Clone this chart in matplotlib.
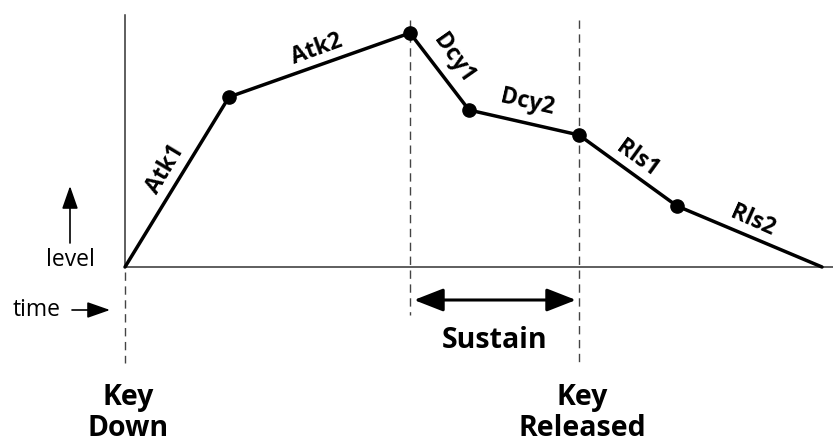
import matplotlib
matplotlib.use("Agg")
import matplotlib.pyplot as plt

plt.rcParams["font.family"] = ["Open Sans", "DejaVu Sans"]

# envelope break points (time, level)
times = [0, 104, 285, 344, 454, 552, 697]
levels = [0, 170, 234, 157, 132, 61, 0]
seg_names = ["Atk1", "Atk2", "Dcy1", "Dcy2", "Rls1", "Rls2"]
# label positions and angles along each segment
label_x = [41, 192, 329, 402, 512, 628]
label_y = [98, 218, 208, 165, 108, 46]
label_rot = [59, 20, -55, -13, -36, -24]

key_down_t = 0
peak_t = times[2]
key_up_t = times[4]

fig = plt.figure(figsize=(8.33, 4.47), dpi=100)
ax = fig.add_axes([0, 0, 1, 1])
ax.set_xlim(-125, 708)
ax.set_ylim(-180, 267)
ax.axis("off")

# axes
ax.plot([0, 0], [0, 252], color="#333333", lw=1.1)
ax.plot([0, 708], [0, 0], color="#333333", lw=1.1)

# dashed guides
dash = dict(color="#444444", lw=1.0, dashes=(6, 4))
ax.plot([key_down_t, key_down_t], [-5, -96], **dash)
ax.plot([peak_t, peak_t], [247, -48], **dash)
ax.plot([key_up_t, key_up_t], [247, -96], **dash)

# envelope
ax.plot(times, levels, color="black", lw=2.5, solid_capstyle="round")
ax.plot(times[1:-1], levels[1:-1], "o", color="black", ms=9.5)

for name, x, y, r in zip(seg_names, label_x, label_y, label_rot):
    ax.text(x, y, name, rotation=r, ha="center", va="center",
            fontsize=16.5, fontweight="bold", rotation_mode="anchor")

# level / time arrows
ax.annotate("", xy=(-55, 81), xytext=(-55, 24),
            arrowprops=dict(arrowstyle="-|>,head_length=1.0,head_width=0.35",
                            color="black", lw=1.2, mutation_scale=14,
                            shrinkA=0, shrinkB=0))
ax.text(-55, 7, "level", ha="center", va="center", fontsize=16.5)
ax.annotate("", xy=(-15, -43), xytext=(-53, -43),
            arrowprops=dict(arrowstyle="-|>,head_length=1.0,head_width=0.35",
                            color="black", lw=1.2, mutation_scale=14,
                            shrinkA=0, shrinkB=0))
ax.text(-88, -43, "time", ha="center", va="center", fontsize=16.5)

# sustain arrow
ax.annotate("", xy=(key_up_t - 3, -33), xytext=(peak_t + 4, -33),
            arrowprops=dict(arrowstyle="<|-|>,head_length=1.2,head_width=0.47",
                            color="black", lw=2.2, mutation_scale=15,
                            shrinkA=0, shrinkB=0))
ax.text(370, -74, "Sustain", ha="center", va="center", fontsize=20.5, fontweight="bold")

ax.text(3, -130, "Key", ha="center", va="center", fontsize=20.5, fontweight="bold")
ax.text(3, -162, "Down", ha="center", va="center", fontsize=20.5, fontweight="bold")
ax.text(457, -130, "Key", ha="center", va="center", fontsize=20.5, fontweight="bold")
ax.text(457, -162, "Released", ha="center", va="center", fontsize=20.5, fontweight="bold")

fig.savefig("out.png", dpi=100)
